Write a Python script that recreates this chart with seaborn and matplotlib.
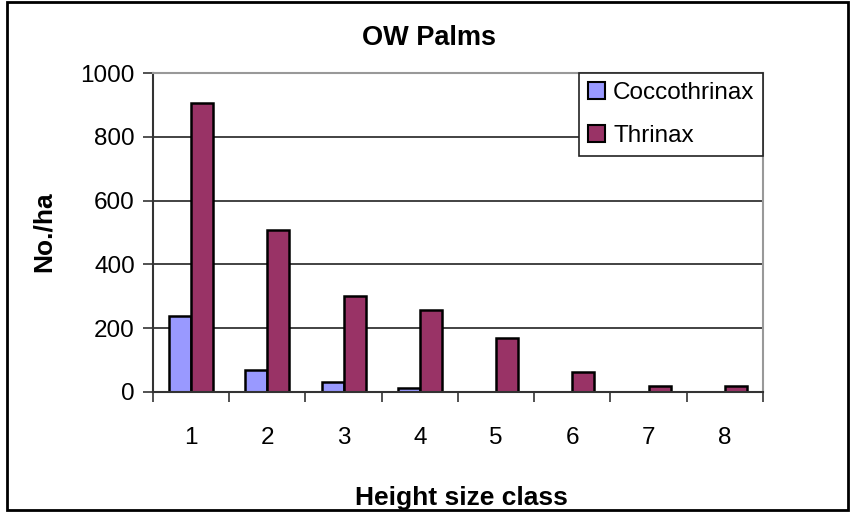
import numpy as np
import pandas as pd
import matplotlib
matplotlib.use("Agg")
import matplotlib.pyplot as plt
import matplotlib.patches as mpatches
import seaborn as sns

# Data
height_classes = ["1", "2", "3", "4", "5", "6", "7", "8"]
coccothrinax = [238, 69, 32, 12, 0, 0, 0, 0]
thrinax = [907, 507, 300, 258, 170, 64, 20, 20]
species = ["Coccothrinax", "Thrinax"]
colors = ["#9999FF", "#993366"]

df = pd.DataFrame({
    "height": height_classes * 2,
    "density": coccothrinax + thrinax,
    "species": [species[0]] * len(height_classes) + [species[1]] * len(height_classes),
})

sns.set_style("white")
plt.rcParams["font.family"] = ["Liberation Sans", "DejaVu Sans"]
plt.rcParams["text.color"] = "black"
plt.rcParams["xtick.color"] = "black"
plt.rcParams["ytick.color"] = "black"

W, H = 854, 512
fig = plt.figure(figsize=(W / 100, H / 100), dpi=100)
ax = fig.add_axes([153 / W, 1 - 392 / H, (763 - 153) / W, (392 - 73) / H])

sns.barplot(data=df, x="height", y="density", hue="species", palette=colors,
            width=0.58, edgecolor="black", linewidth=1.8, saturation=1,
            ax=ax, legend=True)

# empty classes show no bar outline in the original
for bar in ax.patches:
    if bar.get_height() == 0:
        bar.set_linewidth(0)

ax.set_ylim(0, 1000)
ax.set_xlim(-0.5, len(height_classes) - 0.5)
ax.set_yticks([0, 200, 400, 600, 800, 1000])
ax.yaxis.grid(True, color="#222222", linewidth=1.2)
ax.set_axisbelow(True)

# tick marks sit between categories, labels centred under groups
ax.set_xticks(np.arange(len(height_classes)))
ax.set_xticklabels(height_classes)
ax.set_xticks(np.arange(-0.5, len(height_classes)), minor=True)
ax.tick_params(axis="x", which="major", length=0, pad=25, labelsize=17.5)
ax.tick_params(axis="x", which="minor", length=7, width=1.2, color="#333333")
ax.tick_params(axis="y", length=7, width=1.2, color="#333333", labelsize=17.5, pad=6)
ax.tick_params(left=True, bottom=True, which="both")

for side in ["left", "bottom"]:
    ax.spines[side].set_color("#333333")
    ax.spines[side].set_linewidth(1.5)
for side in ["top", "right"]:
    ax.spines[side].set_color("#999999")
    ax.spines[side].set_linewidth(1.5)

ax.set_xlabel("")
ax.set_ylabel("")

leg = ax.legend(loc="upper right", bbox_to_anchor=(1.0, 1.0), borderaxespad=0,
                frameon=True, fancybox=False, framealpha=1, fontsize=17.5,
                handlelength=0.7, handleheight=0.7, handletextpad=0.35,
                labelspacing=0.9, borderpad=0.35)
leg.get_frame().set_edgecolor("#222222")
leg.get_frame().set_facecolor("white")
leg.get_frame().set_linewidth(1.2)
for h in leg.legend_handles:
    h.set_edgecolor("black")
    h.set_linewidth(1.5)

fig.text(429 / W, 1 - 38 / H, "OW Palms", ha="center", va="center",
         fontsize=19.5, fontweight="bold")
fig.text(44 / W, 1 - 232 / H, "No./ha", ha="center", va="center",
         rotation=90, fontsize=19, fontweight="bold")
fig.text(461 / W, 1 - 498 / H, "Height size class", ha="center", va="center",
         fontsize=19, fontweight="bold")

border = mpatches.Rectangle((7 / W, 2 / H), (848 - 7) / W, (510 - 2) / H,
                            transform=fig.transFigure, fill=False,
                            edgecolor="black", linewidth=2)
fig.patches.append(border)

fig.savefig("out.png", dpi=100)
